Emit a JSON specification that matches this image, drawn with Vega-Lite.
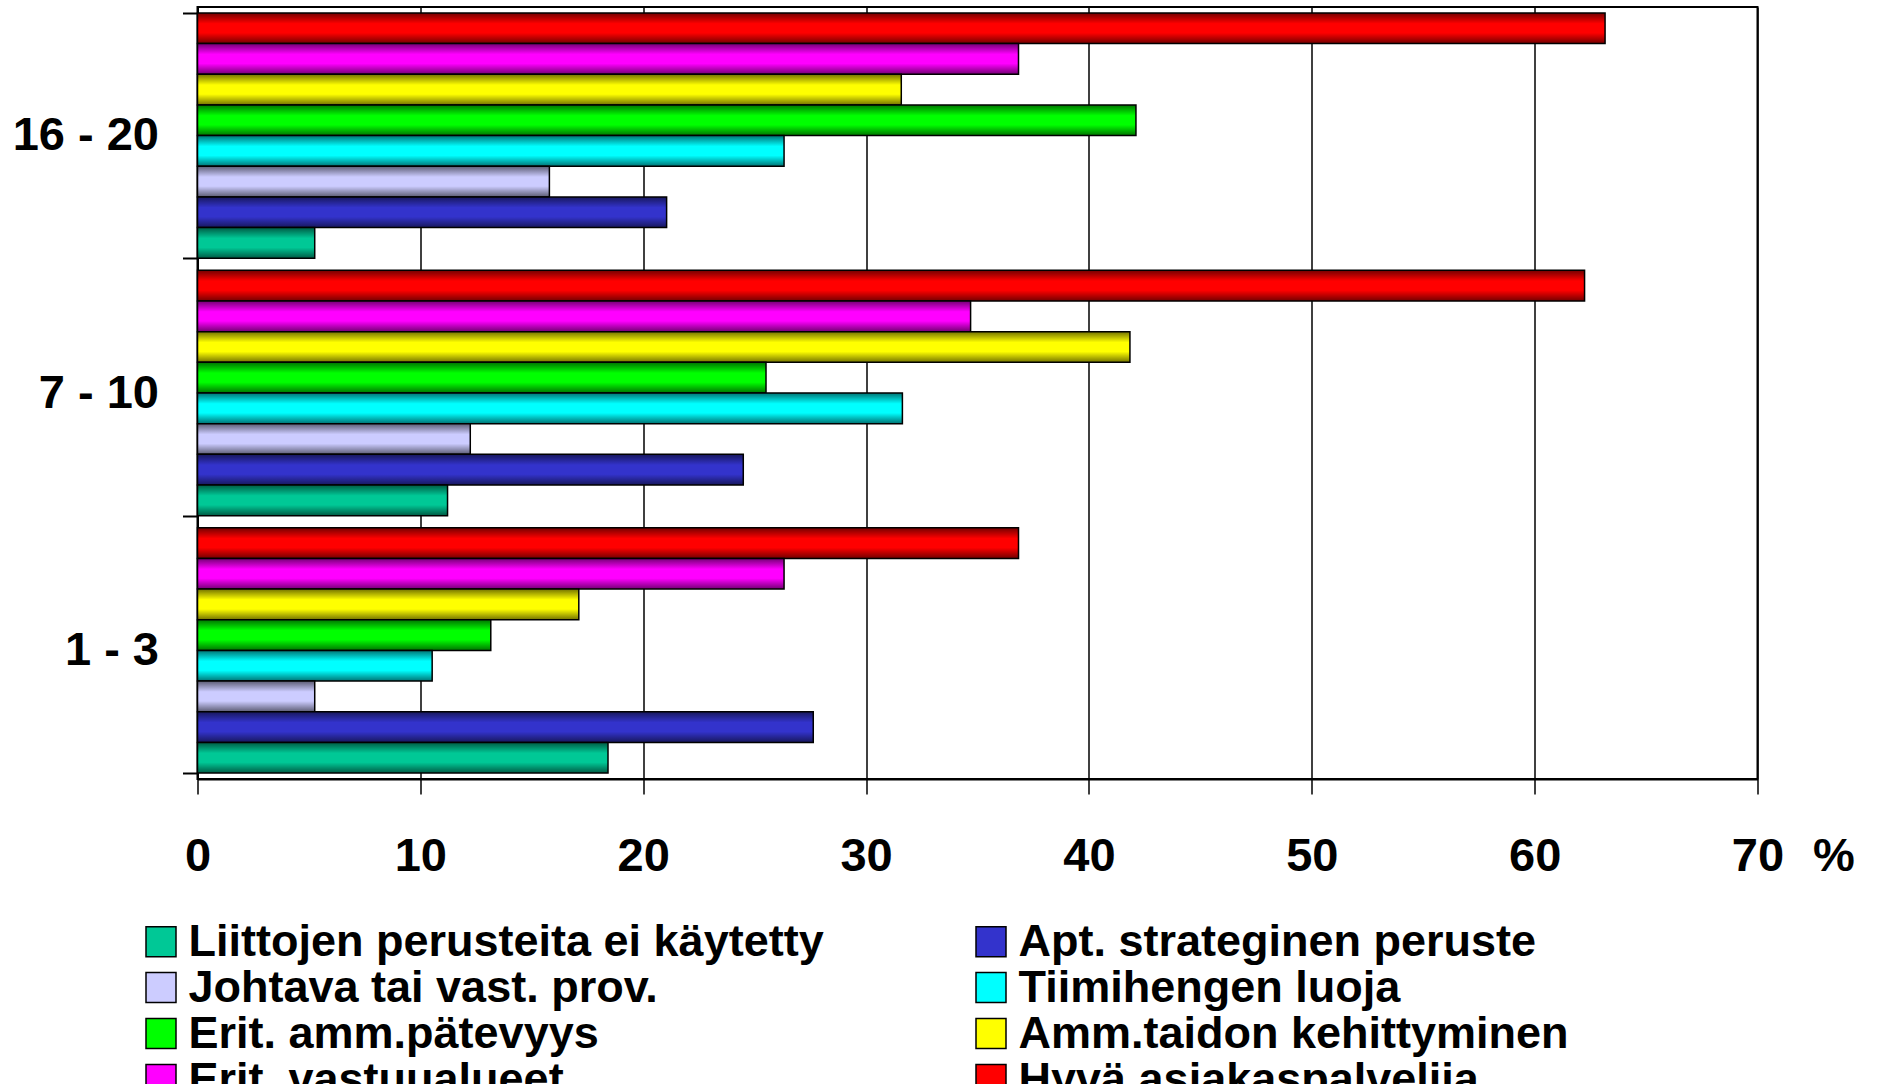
{
  "$schema": "https://vega.github.io/schema/vega-lite/v6.json",
  "autosize": "none",
  "padding": {"left": 197.5, "top": 7, "right": 119.5, "bottom": 305},
  "width": 1560,
  "height": 772,
  "background": "white",
  "config": {
    "view": {"stroke": "black", "strokeWidth": 2},
    "font": "Liberation Sans"
  },
  "data": {
    "values": [
      {"g": "16 - 20", "s": "Hyvä asiakaspalvelija", "v": 63.16},
      {"g": "16 - 20", "s": "Erit. vastuualueet", "v": 36.84},
      {"g": "16 - 20", "s": "Amm.taidon kehittyminen", "v": 31.58},
      {"g": "16 - 20", "s": "Erit. amm.pätevyys", "v": 42.11},
      {"g": "16 - 20", "s": "Tiimihengen luoja", "v": 26.32},
      {"g": "16 - 20", "s": "Johtava tai vast. prov.", "v": 15.79},
      {"g": "16 - 20", "s": "Apt. strateginen peruste", "v": 21.05},
      {"g": "16 - 20", "s": "Liittojen perusteita ei käytetty", "v": 5.26},
      {"g": "7 - 10", "s": "Hyvä asiakaspalvelija", "v": 62.24},
      {"g": "7 - 10", "s": "Erit. vastuualueet", "v": 34.69},
      {"g": "7 - 10", "s": "Amm.taidon kehittyminen", "v": 41.84},
      {"g": "7 - 10", "s": "Erit. amm.pätevyys", "v": 25.51},
      {"g": "7 - 10", "s": "Tiimihengen luoja", "v": 31.63},
      {"g": "7 - 10", "s": "Johtava tai vast. prov.", "v": 12.24},
      {"g": "7 - 10", "s": "Apt. strateginen peruste", "v": 24.49},
      {"g": "7 - 10", "s": "Liittojen perusteita ei käytetty", "v": 11.22},
      {"g": "1 - 3", "s": "Hyvä asiakaspalvelija", "v": 36.84},
      {"g": "1 - 3", "s": "Erit. vastuualueet", "v": 26.32},
      {"g": "1 - 3", "s": "Amm.taidon kehittyminen", "v": 17.11},
      {"g": "1 - 3", "s": "Erit. amm.pätevyys", "v": 13.16},
      {"g": "1 - 3", "s": "Tiimihengen luoja", "v": 10.53},
      {"g": "1 - 3", "s": "Johtava tai vast. prov.", "v": 5.26},
      {"g": "1 - 3", "s": "Apt. strateginen peruste", "v": 27.63},
      {"g": "1 - 3", "s": "Liittojen perusteita ei käytetty", "v": 18.42}
    ]
  },
  "encoding": {
    "y": {
      "field": "g", "type": "nominal",
      "sort": ["16 - 20", "7 - 10", "1 - 3"],
      "scale": {"paddingInner": 0.047, "paddingOuter": 0.023},
      "axis": {
        "title": null,
        "tickBand": "extent",
        "domainColor": "black", "domainWidth": 2,
        "tickColor": "black", "tickWidth": 2, "tickSize": 15,
        "labelFont": "Liberation Sans", "labelFontSize": 47, "labelFontWeight": "bold",
        "labelColor": "black", "labelPadding": 24, "labelAngle": 0
      }
    },
    "yOffset": {
      "field": "s", "type": "nominal",
      "sort": ["Hyvä asiakaspalvelija", "Erit. vastuualueet", "Amm.taidon kehittyminen", "Erit. amm.pätevyys", "Tiimihengen luoja", "Johtava tai vast. prov.", "Apt. strateginen peruste", "Liittojen perusteita ei käytetty"],
      "scale": {"paddingInner": 0, "paddingOuter": 0}
    },
    "x": {
      "field": "v", "type": "quantitative",
      "scale": {"domain": [0, 70], "nice": false},
      "axis": {
        "values": [0, 10, 20, 30, 40, 50, 60, 70],
        "labelFlush": false,
        "title": "%",
        "titleFont": "Liberation Sans", "titleFontSize": 47, "titleFontWeight": "bold",
        "titleColor": "black", "titleX": 1636, "titleY": 91, "titleAlign": "center", "titleBaseline": "alphabetic",
        "grid": true, "gridColor": "black", "gridWidth": 1.5, "gridOpacity": 1,
        "domainColor": "black", "domainWidth": 2,
        "tickColor": "black", "tickWidth": 1.5, "tickSize": 15,
        "labelFont": "Liberation Sans", "labelFontSize": 47, "labelFontWeight": "bold",
        "labelColor": "black", "labelPadding": 39
      }
    }
  },
  "layer": [
    {
      "mark": {"type": "bar", "stroke": "black", "strokeWidth": 1.5, "opacity": 1},
      "encoding": {
        "color": {
          "field": "s", "type": "nominal",
          "scale": {
            "domain": ["Liittojen perusteita ei käytetty", "Apt. strateginen peruste", "Johtava tai vast. prov.", "Tiimihengen luoja", "Erit. amm.pätevyys", "Amm.taidon kehittyminen", "Erit. vastuualueet", "Hyvä asiakaspalvelija"],
            "range": ["#00C896", "#3333CC", "#CCCCFF", "#00FFFF", "#00FF00", "#FFFF00", "#FF00FF", "#FF0000"]
          },
          "legend": {
            "title": null,
            "orient": "none",
            "legendX": -59,
            "legendY": 912,
            "direction": "horizontal",
            "columns": 2,
            "columnPadding": 144,
            "rowPadding": 0,
            "symbolType": "square",
            "symbolSize": 900,
            "symbolStrokeColor": "black",
            "symbolStrokeWidth": 1.5,
            "symbolOpacity": 1,
            "labelFont": "Liberation Sans",
            "labelFontSize": 45,
            "labelFontWeight": "bold",
            "labelColor": "black",
            "labelOffset": 5,
            "labelLimit": 1000
          }
        }
      }
    },
    {
      "mark": {
        "type": "bar",
        "strokeWidth": 0,
        "fill": {
          "gradient": "linear", "x1": 0, "y1": 0, "x2": 0, "y2": 1,
          "stops": [
            {"offset": 0, "color": "rgba(0,0,0,0.55)"},
            {"offset": 0.35, "color": "rgba(0,0,0,0)"},
            {"offset": 0.65, "color": "rgba(0,0,0,0)"},
            {"offset": 1, "color": "rgba(0,0,0,0.55)"}
          ]
        }
      },
      "encoding": {}
    }
  ]
}
